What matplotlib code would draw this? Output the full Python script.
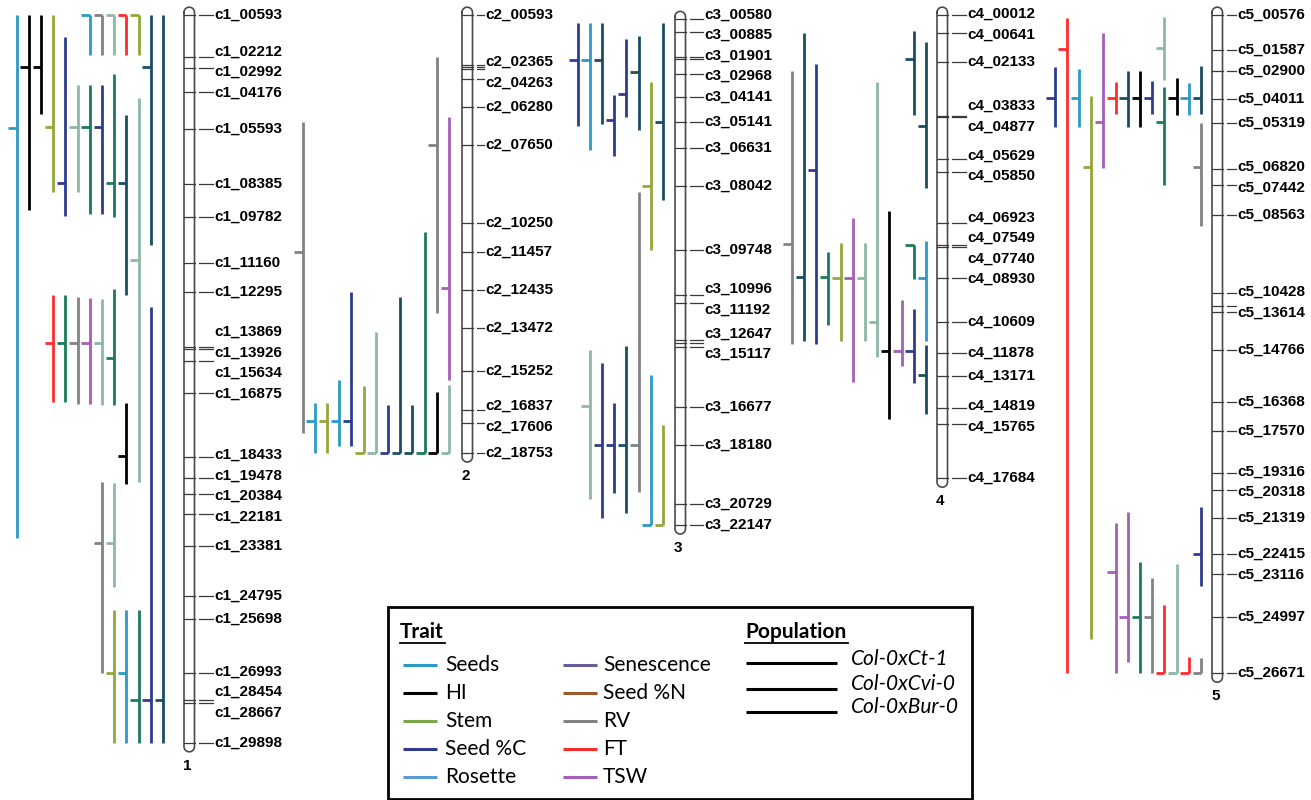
import matplotlib
matplotlib.use('Agg')
import matplotlib.pyplot as plt
import numpy as np
from matplotlib.patches import Rectangle

# ---------------- DATA ----------------
# marker names and map positions (cM) per chromosome ('' = unlabeled marker)
chr1_markers = ['c1_00593', 'c1_02212', 'c1_02992', 'c1_04176', 'c1_05593', 'c1_08385', 'c1_09782',
                'c1_11160', 'c1_12295', 'c1_13869', 'c1_13926', 'c1_15634', 'c1_16875', 'c1_18433',
                'c1_19478', 'c1_20384', 'c1_22181', 'c1_23381', 'c1_24795', 'c1_25698', 'c1_26993',
                'c1_28454', 'c1_28667', 'c1_29898']
chr1_pos = [0.0, 7.0, 8.8, 12.8, 19.0, 28.2, 33.7, 41.3, 46.2, 55.3, 55.7, 57.7, 63.0, 73.7,
            77.2, 79.8, 83.2, 88.5, 96.8, 100.7, 109.7, 114.2, 114.7, 121.3]

chr2_markers = ['c2_00593', 'c2_02365', '', '', 'c2_04263', 'c2_06280', 'c2_07650', 'c2_10250',
                'c2_11457', 'c2_12435', 'c2_13472', 'c2_15252', 'c2_16837', 'c2_17606', 'c2_18753']
chr2_pos = [0.0, 8.3, 8.7, 9.0, 10.7, 15.3, 21.7, 34.7, 39.5, 45.8, 52.2, 59.3, 65.8, 68.0, 73.0]

chr3_markers = ['c3_00580', 'c3_00885', 'c3_01901', '', 'c3_02968', 'c3_04141', 'c3_05141',
                'c3_06631', 'c3_08042', 'c3_09748', 'c3_10996', 'c3_11192', 'c3_12647', '',
                'c3_15117', 'c3_16677', 'c3_18180', 'c3_20729', 'c3_22147']
chr3_pos = [0.7, 2.8, 7.0, 7.3, 9.8, 13.7, 17.8, 22.2, 28.5, 39.2, 46.7, 48.0, 54.2, 54.7,
            55.3, 65.3, 71.7, 81.5, 85.0]

chr4_markers = ['c4_00012', 'c4_00641', 'c4_02133', 'c4_03833', 'c4_04877', 'c4_05629', 'c4_05850',
                'c4_06923', 'c4_07549', 'c4_07740', 'c4_08930', 'c4_10609', 'c4_11878', 'c4_13171',
                'c4_14819', 'c4_15765', 'c4_17684']
chr4_pos = [0.0, 3.0, 7.8, 16.8, 17.0, 24.0, 26.2, 34.7, 38.3, 38.7, 43.8, 51.2, 56.3, 60.2,
            65.5, 68.2, 77.2]

chr5_markers = ['c5_00576', 'c5_01587', 'c5_02900', 'c5_04011', 'c5_05319', 'c5_06820', 'c5_07442',
                'c5_08563', 'c5_10428', '', 'c5_13614', 'c5_14766', 'c5_16368', 'c5_17570',
                'c5_19316', 'c5_20318', 'c5_21319', 'c5_22415', 'c5_23116', 'c5_24997', 'c5_26671']
chr5_pos = [0.0, 5.8, 9.3, 14.0, 18.0, 25.7, 28.3, 33.3, 46.3, 48.5, 49.5, 55.8, 64.5, 69.3,
            76.3, 79.2, 83.8, 89.8, 93.2, 100.3, 109.7]

# QTL: (trait, lane, start cM, end cM, peak cM)
chr1_qtl = [
    ('seeds', 12, 0.0, 87.2, 18.8), ('hi', 11, 0.0, 32.5, 8.7), ('hi', 10, 0.0, 16.5, 8.7),
    ('stem', 9, 0.0, 29.5, 18.7), ('seedC', 8, 3.7, 33.5, 28.0),
    ('seeds', 6, 0.0, 6.7, 0.0), ('rv', 5, 0.0, 6.7, 0.0), ('sage', 4, 0.0, 6.7, 0.0),
    ('ft', 3, 0.0, 6.7, 0.0), ('stem', 2, 0.0, 6.7, 0.0),
    ('sage', 7, 11.7, 29.5, 18.7), ('teal', 6, 11.7, 33.2, 18.7), ('seedC', 5, 11.7, 33.2, 18.7),
    ('teal', 4, 9.8, 33.7, 28.0), ('darkteal', 3, 16.7, 46.7, 28.0), ('sage', 2, 13.8, 77.8, 40.8),
    ('darkteal', 1, 0.0, 38.3, 8.7), ('darkteal', 0, 0.0, 121.3, 114.2),
    ('ft', 9, 46.7, 64.5, 54.7), ('teal', 8, 46.7, 64.5, 54.7), ('rv', 7, 47.0, 64.8, 54.7),
    ('tsw', 6, 47.2, 64.8, 54.7), ('sage', 5, 47.3, 65.0, 54.7), ('teal', 4, 45.7, 65.0, 57.2),
    ('seedC', 1, 48.7, 121.3, 114.2), ('hi', 3, 64.7, 78.2, 73.5),
    ('rv', 5, 77.8, 109.7, 88.0), ('sage', 4, 78.0, 95.3, 88.0),
    ('stem', 4, 99.2, 121.3, 109.7), ('seeds', 3, 99.2, 121.3, 109.7), ('teal', 2, 99.2, 121.3, 114.2),
]
chr2_qtl = [
    ('rv', 12, 17.8, 69.7, 39.5), ('seeds', 11, 64.7, 73.0, 67.7), ('stem', 10, 64.7, 73.0, 67.7),
    ('seeds', 9, 60.8, 71.8, 67.7), ('seedC', 8, 46.2, 71.8, 67.7), ('stem', 7, 61.8, 73.0, 73.0),
    ('sage', 6, 52.8, 73.0, 73.0), ('seedC', 5, 65.0, 73.0, 73.0), ('darkteal', 4, 47.0, 73.0, 73.0),
    ('darkteal', 3, 65.0, 73.0, 73.0), ('teal', 2, 36.2, 73.0, 73.0), ('hi', 1, 62.8, 73.0, 73.0),
    ('rv', 1, 7.0, 49.7, 21.7), ('tsw', 0, 17.0, 60.8, 45.5), ('sage', 0, 61.7, 73.0, 73.0),
]
chr3_qtl = [
    ('seedC', 7, 1.3, 18.5, 7.5), ('seeds', 6, 1.3, 22.5, 7.5), ('darkteal', 5, 1.3, 18.2, 7.5),
    ('seedC', 4, 13.3, 23.5, 17.5), ('seedC', 3, 4.0, 17.0, 13.2), ('darkteal', 2, 3.5, 19.2, 9.5),
    ('stem', 1, 11.2, 39.2, 28.5), ('darkteal', 0, 1.3, 30.8, 17.8), ('rv', 2, 29.5, 79.5, 71.7),
    ('sage', 6, 55.8, 80.7, 65.2), ('seedC', 5, 58.0, 83.8, 71.7), ('seedC', 4, 64.7, 79.7, 71.7),
    ('darkteal', 3, 55.2, 83.0, 71.7), ('seeds', 1, 60.0, 85.0, 85.0), ('stem', 0, 68.3, 85.0, 85.0),
]
chr4_qtl = [
    ('rv', 11, 9.3, 54.8, 38.2), ('darkteal', 10, 3.0, 54.3, 43.7), ('seedC', 9, 8.2, 54.8, 25.8),
    ('teal', 8, 39.5, 51.7, 43.7), ('stem', 7, 38.0, 54.3, 43.8), ('tsw', 6, 33.8, 61.2, 43.8),
    ('sage', 5, 38.0, 54.3, 43.8), ('sage', 4, 11.2, 57.0, 51.2), ('hi', 3, 32.7, 67.3, 56.0),
    ('tsw', 2, 47.5, 58.5, 56.0), ('seedC', 1, 49.0, 61.3, 56.0), ('darkteal', 0, 55.0, 66.5, 60.0),
    ('darkteal', 1, 2.7, 16.7, 7.3), ('darkteal', 0, 4.5, 28.8, 18.5), ('teal', 1, 38.3, 44.0, 38.3),
    ('seeds', 0, 37.7, 54.3, 43.8),
]
chr5_qtl = [
    ('seedC', 12, 8.7, 18.7, 13.8), ('ft', 11, 0.5, 109.7, 5.7), ('seeds', 10, 9.0, 18.7, 13.8),
    ('stem', 9, 13.5, 104.0, 25.3), ('tsw', 8, 3.0, 25.5, 17.8), ('ft', 7, 11.2, 16.5, 13.8),
    ('darkteal', 6, 9.3, 18.7, 13.8), ('hi', 5, 9.3, 18.7, 13.8), ('seedC', 4, 11.0, 16.5, 13.8),
    ('sage', 3, 0.3, 10.8, 5.5), ('teal', 3, 12.0, 28.3, 17.8), ('hi', 2, 10.5, 16.7, 13.8),
    ('seeds', 1, 11.3, 16.7, 13.8), ('darkteal', 0, 8.5, 16.5, 13.8), ('rv', 0, 18.0, 35.2, 25.3),
    ('tsw', 7, 84.7, 109.7, 92.8), ('tsw', 6, 82.8, 107.8, 100.3), ('teal', 5, 91.2, 109.7, 100.3),
    ('rv', 4, 93.8, 109.7, 100.3), ('ft', 3, 98.3, 109.7, 109.7), ('sage', 2, 91.5, 109.7, 109.7),
    ('ft', 1, 107.0, 109.7, 109.7), ('rv', 0, 107.2, 109.7, 109.7), ('seedC', 0, 82.0, 95.2, 89.8),
]

legend_traits_col1 = ['Seeds', 'HI', 'Stem', 'Seed %C', 'Rosette']
legend_traits_col2 = ['Senescence', 'Seed %N', 'RV', 'FT', 'TSW']
populations = ['Col-0xCt-1', 'Col-0xCvi-0', 'Col-0xBur-0']

# ---------------- STYLE / LAYOUT ----------------
colors = {
    'seeds': '#2B9AC6', 'hi': '#000000', 'stem': '#93A83A', 'seedC': '#2E3B8E',
    'rosette': '#5B9BD5', 'senescence': '#6B5B95', 'seedN': '#9C5A2B', 'rv': '#808285',
    'ft': '#FF2B2B', 'tsw': '#A45EBB', 'sage': '#8DB9A3', 'teal': '#1B7A5C', 'darkteal': '#1B4D62',
}
legend_colors_col1 = [colors['seeds'], colors['hi'], '#7AA548', colors['seedC'], colors['rosette']]
legend_colors_col2 = [colors['senescence'], colors['seedN'], colors['rv'], colors['ft'], colors['tsw']]

PX_PER_CM = 6.0
TOP_PX = 15.0
chrom_left = [184, 462, 675, 937, 1212]
lane0_x = [163, 449, 663, 926, 1201]
label_off = [20, 13, 19, 20, 15]
LANE_STEP = 12.2
CHROM_W = 10.5
LABEL_GAP_CM = 20.5 / PX_PER_CM

markers_all = [chr1_markers, chr2_markers, chr3_markers, chr4_markers, chr5_markers]
pos_all = [chr1_pos, chr2_pos, chr3_pos, chr4_pos, chr5_pos]
qtl_all = [chr1_qtl, chr2_qtl, chr3_qtl, chr4_qtl, chr5_qtl]

fig = plt.figure(figsize=(13.11, 8), dpi=100)
ax = fig.add_axes([0, 0, 1, 1])
ax.set_xlim(0, 1311)
ax.set_ylim((800 - TOP_PX) / PX_PER_CM, -TOP_PX / PX_PER_CM)
ax.axis('off')

LABEL_FONT = dict(family=['Liberation Sans', 'DejaVu Sans'], fontsize=11, fontweight='bold')


def spread(ys, gap):
    ys = list(ys)
    for _ in range(500):
        moved = False
        for i in range(len(ys) - 1):
            d = ys[i + 1] - ys[i]
            if d < gap - 1e-6:
                push = (gap - d) / 2
                ys[i] -= push
                ys[i + 1] += push
                moved = True
        if not moved:
            break
    return ys


for ci in range(5):
    left = chrom_left[ci]
    right = left + CHROM_W
    cx = left + CHROM_W / 2
    r = CHROM_W / 2
    ry = r / PX_PER_CM
    pos = pos_all[ci]
    names = markers_all[ci]
    top = pos[0] - 1.3
    bottom = pos[-1] + 1.5
    lab_x = right + label_off[ci]

    # chromosome outline
    t1 = np.linspace(np.pi, 0, 40)
    t2 = np.linspace(0, -np.pi, 40)
    xs = np.concatenate([cx + r * np.cos(t1), cx + r * np.cos(t2), [cx - r]])
    ys = np.concatenate([top + ry - ry * np.sin(t1), bottom - ry - ry * np.sin(t2), [top + ry]])
    ax.fill(xs, ys, color='white', zorder=2)
    ax.plot(xs, ys, color='#4a4a4a', lw=1.2, zorder=3)

    # marker ticks and leaders
    for p in pos:
        ax.plot([left, right], [p, p], color='#3a3a3a', lw=0.9, zorder=3)
        ax.plot([right + 4, lab_x - 2], [p, p], color='#3a3a3a', lw=0.9, zorder=3)

    labeled = [(p, n) for p, n in zip(pos, names) if n]
    ly = spread([p for p, _ in labeled], LABEL_GAP_CM)
    for (p, n), y in zip(labeled, ly):
        ax.text(lab_x, y, n, ha='left', va='center', **LABEL_FONT)

    ax.text(cx - 2, bottom + 14 / PX_PER_CM, str(ci + 1), ha='center', va='center', **LABEL_FONT)

    # QTL intervals
    for trait, lane, s, e, pk in qtl_all[ci]:
        x = lane0_x[ci] - LANE_STEP * lane
        c = colors[trait]
        ax.plot([x, x], [s, e], color=c, lw=2.0, solid_capstyle='butt', zorder=4)
        ax.plot([x - 8.5, x], [pk, pk], color=c, lw=2.0, solid_capstyle='butt', zorder=4)

# ---------------- LEGEND ----------------
lax = fig.add_axes([0, 0, 1, 1], zorder=5)
lax.set_xlim(0, 1311)
lax.set_ylim(800, 0)
lax.axis('off')
lax.patch.set_alpha(0)
lax.add_patch(Rectangle((388, 607), 584, 191.5, facecolor='white', edgecolor='black', lw=2.0))

LEG_FONT = ['Lato', 'DejaVu Sans']
lax.text(400, 632, 'Trait', ha='left', va='center', family=LEG_FONT, fontsize=15, fontweight='bold')
lax.plot([400, 445], [643, 643], color='black', lw=1.3)
lax.text(745, 632, 'Population', ha='left', va='center', family=LEG_FONT, fontsize=15, fontweight='bold')
lax.plot([745, 848], [643, 643], color='black', lw=1.3)

row_y = [665, 693, 721, 749, 777]
for i, (lab, col) in enumerate(zip(legend_traits_col1, legend_colors_col1)):
    lax.plot([403, 437], [row_y[i], row_y[i]], color=col, lw=2.2, solid_capstyle='butt')
    lax.text(445, row_y[i], lab, ha='left', va='center', family=LEG_FONT, fontsize=15)
for i, (lab, col) in enumerate(zip(legend_traits_col2, legend_colors_col2)):
    lax.plot([563, 597], [row_y[i], row_y[i]], color=col, lw=2.2, solid_capstyle='butt')
    lax.text(603, row_y[i], lab, ha='left', va='center', family=LEG_FONT, fontsize=15)

pop_line_y = [663, 689, 712]
pop_text_y = [659, 684, 707]
for i, lab in enumerate(populations):
    lax.plot([746, 837], [pop_line_y[i], pop_line_y[i]], color='black', lw=2.2, solid_capstyle='butt')
    lax.text(851, pop_text_y[i], lab, ha='left', va='center', family=LEG_FONT, fontsize=15,
             fontstyle='italic')

fig.savefig('out.png', dpi=100)
